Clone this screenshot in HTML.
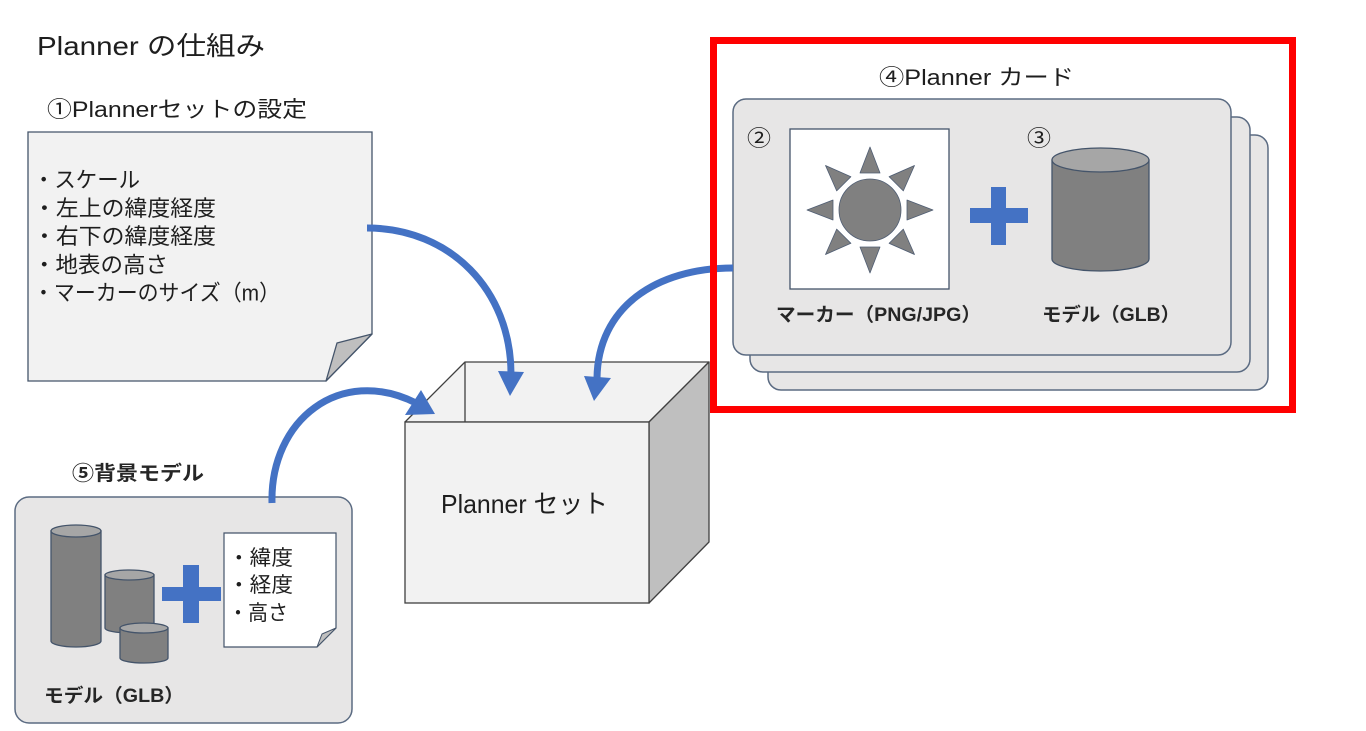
<!DOCTYPE html>
<html>
<head>
<meta charset="utf-8">
<style>
  html,body{margin:0;padding:0;background:#ffffff;}
  body{width:1366px;height:731px;overflow:hidden;}
  svg{display:block;}
  text{font-family:"Liberation Sans","Noto Sans CJK JP",sans-serif;fill:#1e1e1e;}
  .b{font-weight:bold;fill:#262626;}
</style>
</head>
<body>
<svg width="1366" height="731" viewBox="0 0 1366 731" xmlns="http://www.w3.org/2000/svg">
  <!-- Title -->
  <text x="37" y="55" font-size="26" textLength="228" lengthAdjust="spacingAndGlyphs">Planner の仕組み</text>

  <!-- ① heading -->
  <text x="47" y="117" font-size="22" textLength="260" lengthAdjust="spacingAndGlyphs">①Plannerセットの設定</text>

  <!-- Note 1 -->
  <path d="M28,132 H372 V334 L326,381 H28 Z" fill="#f2f2f2" stroke="#44546a" stroke-width="1.3"/>
  <polygon points="326,381 337,343 372,334" fill="#bfbfbf" stroke="#44546a" stroke-width="1.3" stroke-linejoin="round"/>
  <text x="33" y="187.5" font-size="22" textLength="107" lengthAdjust="spacingAndGlyphs">・スケール</text>
  <text x="33" y="215.8" font-size="22" textLength="183" lengthAdjust="spacingAndGlyphs">・左上の緯度経度</text>
  <text x="33" y="244.1" font-size="22" textLength="183" lengthAdjust="spacingAndGlyphs">・右下の緯度経度</text>
  <text x="33" y="272.4" font-size="22" textLength="135" lengthAdjust="spacingAndGlyphs">・地表の高さ</text>
  <text x="33" y="300.7" font-size="22" textLength="247" lengthAdjust="spacingAndGlyphs">・マーカーのサイズ（m）</text>

  <!-- Planner set box -->
  <polygon points="405,422 465,362 709,362 649,422" fill="#f2f2f2" stroke="#404040" stroke-width="1.3" stroke-linejoin="round"/>
  <line x1="465" y1="362" x2="465" y2="422" stroke="#404040" stroke-width="1.3"/>
  <polygon points="649,422 709,362 709,542 649,603" fill="#bfbfbf" stroke="#404040" stroke-width="1.3" stroke-linejoin="round"/>
  <rect x="405" y="422" width="244" height="181" fill="#f2f2f2" stroke="#404040" stroke-width="1.3"/>
  <text x="441" y="513" font-size="26" textLength="167" lengthAdjust="spacingAndGlyphs">Planner セット</text>

  <!-- Card stack -->
  <rect x="768" y="135" width="500" height="255" rx="13" fill="#e7e6e6" stroke="#5b6b82" stroke-width="1.5"/>
  <rect x="750" y="117" width="500" height="255" rx="13" fill="#e7e6e6" stroke="#5b6b82" stroke-width="1.5"/>
  <rect x="733" y="99" width="498" height="256" rx="13" fill="#e7e6e6" stroke="#5b6b82" stroke-width="1.5"/>

  <text x="879" y="85" font-size="22" textLength="195" lengthAdjust="spacingAndGlyphs">④Planner カード</text>
  <text x="747" y="146" font-size="22" textLength="24" lengthAdjust="spacingAndGlyphs">②</text>
  <text x="1027" y="146" font-size="22" textLength="24" lengthAdjust="spacingAndGlyphs">③</text>

  <!-- marker -->
  <rect x="790" y="129" width="159" height="160" fill="#ffffff" stroke="#44546a" stroke-width="1.3"/>
  <g fill="#808080" stroke="#4f5d73" stroke-width="0.8" stroke-linejoin="round">
    <polygon points="933,210 907,220 907,200"/>
    <polygon points="870,273 860,247 880,247"/>
    <polygon points="807,210 833,200 833,220"/>
    <polygon points="870,147 880,173 860,173"/>
    <polygon points="914.5,254.5 889.1,243.3 903.3,229.1"/>
    <polygon points="825.5,254.5 836.7,229.1 850.9,243.3"/>
    <polygon points="825.5,165.5 850.9,176.7 836.7,190.9"/>
    <polygon points="914.5,165.5 903.3,190.9 889.1,176.7"/>
    <circle cx="870" cy="210" r="31"/>
  </g>

  <!-- plus in card -->
  <rect x="970" y="208" width="58" height="15" fill="#4472c4"/>
  <rect x="991" y="187" width="15" height="58" fill="#4472c4"/>

  <!-- cylinder in card -->
  <path d="M1052,160 V259 A48.5,12 0 0 0 1149,259 V160 Z" fill="#808080" stroke="#44546a" stroke-width="1.3"/>
  <ellipse cx="1100.5" cy="160" rx="48.5" ry="12" fill="#a6a6a6" stroke="#44546a" stroke-width="1.3"/>

  <text class="b" x="776" y="321" font-size="19" textLength="205" lengthAdjust="spacingAndGlyphs">マーカー（PNG/JPG）</text>
  <text class="b" x="1042" y="321" font-size="19" textLength="138" lengthAdjust="spacingAndGlyphs">モデル（GLB）</text>

  <!-- Background model group -->
  <text class="b" x="72" y="480" font-size="20" textLength="132" lengthAdjust="spacingAndGlyphs">⑤背景モデル</text>
  <rect x="15" y="497" width="337" height="226" rx="14" fill="#e7e6e6" stroke="#5b6b82" stroke-width="1.5"/>

  <path d="M51,531 V641 A25,6 0 0 0 101,641 V531 Z" fill="#808080" stroke="#44546a" stroke-width="1.3"/>
  <ellipse cx="76" cy="531" rx="25" ry="6" fill="#a6a6a6" stroke="#44546a" stroke-width="1.3"/>
  <path d="M105,575 V628 A24.5,5 0 0 0 154,628 V575 Z" fill="#808080" stroke="#44546a" stroke-width="1.3"/>
  <ellipse cx="129.5" cy="575" rx="24.5" ry="5" fill="#a6a6a6" stroke="#44546a" stroke-width="1.3"/>
  <path d="M120,628 V658 A24,5 0 0 0 168,658 V628 Z" fill="#808080" stroke="#44546a" stroke-width="1.3"/>
  <ellipse cx="144" cy="628" rx="24" ry="5" fill="#a6a6a6" stroke="#44546a" stroke-width="1.3"/>

  <rect x="162" y="587" width="59" height="14" fill="#4472c4"/>
  <rect x="183" y="565" width="16" height="58" fill="#4472c4"/>

  <path d="M224,533 H336 V628 L317,647 H224 Z" fill="#ffffff" stroke="#44546a" stroke-width="1.2"/>
  <polygon points="317,647 322,634 336,628" fill="#bfbfbf" stroke="#44546a" stroke-width="1" stroke-linejoin="round"/>
  <text x="228" y="565" font-size="21" textLength="65" lengthAdjust="spacingAndGlyphs">・緯度</text>
  <text x="228" y="592" font-size="21" textLength="65" lengthAdjust="spacingAndGlyphs">・経度</text>
  <text x="228" y="620" font-size="21" textLength="60" lengthAdjust="spacingAndGlyphs">・高さ</text>

  <text class="b" x="44" y="702" font-size="19" textLength="140" lengthAdjust="spacingAndGlyphs">モデル（GLB）</text>

  <!-- Arrows -->
  <g fill="none" stroke="#4472c4" stroke-width="7">
    <path d="M367,228 C450,228 511,290 511,374"/>
    <path d="M733,268 C655,268 598,308 597,378"/>
    <path d="M272,503 C270,420 340,365 416,403"/>
  </g>
  <g fill="#4472c4">
    <polygon points="498,371 524,372 510,396"/>
    <polygon points="584,376 611,378 594,401"/>
    <polygon points="405,415 421,390 435,414"/>
  </g>

  <!-- Red highlight -->
  <rect x="713.5" y="40.5" width="579" height="369" fill="none" stroke="#ff0000" stroke-width="7"/>
</svg>
</body>
</html>
